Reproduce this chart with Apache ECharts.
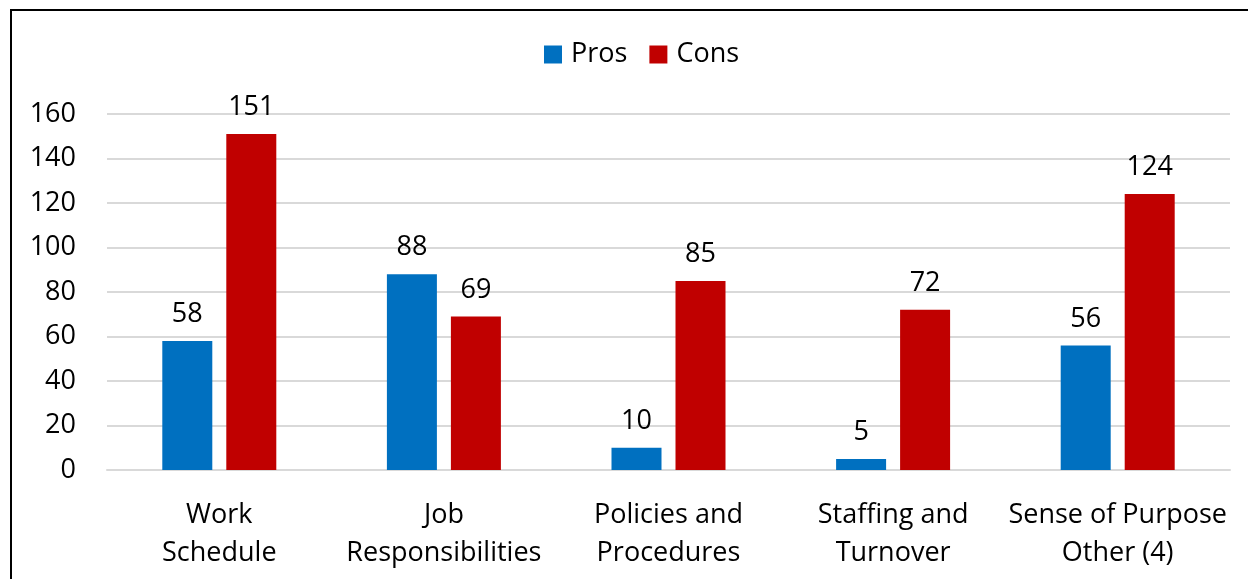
<!DOCTYPE html>
<html>
<head>
<meta charset="utf-8">
<script src="https://cdn.jsdelivr.net/npm/echarts@6/dist/echarts.min.js"></script>
<style>
  html, body { margin: 0; padding: 0; background: #fff; }
  #chart { width: 1248px; height: 579px; }
</style>
</head>
<body>
<div id="chart"></div>
<script>
// Categories and counts per theme
const categories = [
  'Work\nSchedule',
  'Job\nResponsibilities',
  'Policies and\nProcedures',
  'Staffing and\nTurnover',
  'Sense of Purpose\nOther (4)'
];
const prosValues = [58, 88, 10, 5, 56];
const consValues = [151, 69, 85, 72, 124];
const yTicks = { min: 0, max: 160, interval: 20 };

const FONT = '"Open Sans", Lato, sans-serif';
const FS = 27;

const chart = echarts.init(document.getElementById('chart'), null, { renderer: 'canvas' });

const labelStyle = {
  show: true,
  position: 'top',
  distance: 13,
  color: '#000',
  fontFamily: FONT,
  fontSize: FS
};

chart.setOption({
  animation: false,
  backgroundColor: '#fff',
  graphic: [{
    type: 'rect',
    shape: { x: 11, y: 10, width: 1260, height: 620 },
    style: { fill: 'none', stroke: '#000', lineWidth: 2 },
    silent: true,
    z: 100
  }],
  legend: {
    top: 36,
    left: 539,
    itemWidth: 18,
    itemHeight: 18,
    itemGap: 22,
    icon: 'rect',
    textStyle: { fontFamily: FONT, fontSize: FS, color: '#000', padding: [0, 0, 0, 4] },
    data: ['Pros', 'Cons']
  },
  grid: { left: 107, right: 18, top: 114, bottom: 109, containLabel: false },
  xAxis: {
    type: 'category',
    data: categories,
    axisLine: { show: true, lineStyle: { color: '#D9D9D9', width: 2 } },
    axisTick: { show: false },
    axisLabel: {
      color: '#000',
      fontFamily: FONT,
      fontSize: FS,
      lineHeight: 38,
      margin: 26,
      interval: 0
    }
  },
  yAxis: {
    type: 'value',
    min: yTicks.min,
    max: yTicks.max,
    interval: yTicks.interval,
    axisLine: { show: false },
    axisTick: { show: false },
    splitLine: { lineStyle: { color: '#D9D9D9', width: 2 } },
    axisLabel: { color: '#000', fontFamily: FONT, fontSize: FS, margin: 31 }
  },
  series: [
    {
      name: 'Pros',
      type: 'bar',
      data: prosValues,
      barWidth: 50,
      barGap: '28%',
      itemStyle: { color: '#0070C0' },
      label: labelStyle
    },
    {
      name: 'Cons',
      type: 'bar',
      data: consValues,
      barWidth: 50,
      itemStyle: { color: '#C00000' },
      label: labelStyle
    }
  ]
});
</script>
</body>
</html>
